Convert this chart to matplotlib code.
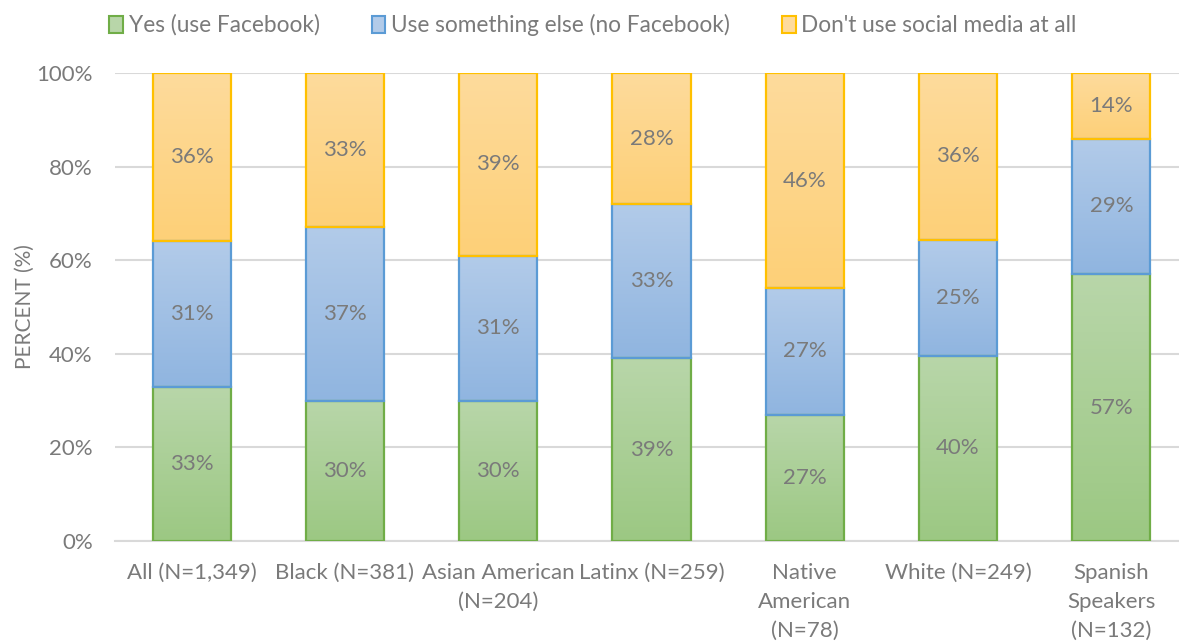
import matplotlib
matplotlib.use("Agg")
import matplotlib.pyplot as plt
from matplotlib.patches import Patch
import numpy as np

# data
groups = ["All (N=1,349)", "Black (N=381)", "Asian American\n(N=204)", "Latinx (N=259)",
          "Native\nAmerican\n(N=78)", "White (N=249)", "Spanish\nSpeakers\n(N=132)"]
yes_fb = [33, 30, 30, 39, 27, 40, 57]
other_sm = [31, 37, 31, 33, 27, 25, 29]
no_sm = [36, 33, 39, 28, 46, 36, 14]
series_names = ["Yes (use Facebook)", "Use something else (no Facebook)", "Don't use social media at all"]

# colours: (top of gradient, bottom of gradient, edge)
styles = [("#b8d6a9", "#9cc883", "#70ad47"),
          ("#b2cbe9", "#90b5e0", "#5b9bd5"),
          ("#fedb9c", "#fdd078", "#ffc000")]

plt.rcParams['font.family'] = ['Lato', 'DejaVu Sans']
grey = "#7a7a7a"

fig = plt.figure(figsize=(11.79, 6.41), dpi=100)
ax = fig.add_axes([115/1179, 1 - 541/641, 1073/1179, 468/641])

x = np.arange(len(groups))
width = 0.51
raw = np.array([yes_fb, other_sm, no_sm], dtype=float)
# 100% stacked: each column is scaled to its own total
shares = raw / raw.sum(axis=0) * 100
bottoms = np.zeros(len(groups))

for vals, labels, (top_c, bot_c, edge_c) in zip(shares, raw, styles):
    bars = ax.bar(x, vals, width, bottom=bottoms, color="none", edgecolor=edge_c,
                  linewidth=1.6, zorder=4)
    cmap = matplotlib.colors.LinearSegmentedColormap.from_list("g", [bot_c, top_c])
    grad = np.linspace(0, 1, 64).reshape(-1, 1)
    for b, v, y0, lab in zip(bars, vals, bottoms, labels):
        im = ax.imshow(grad, cmap=cmap, origin="lower", aspect="auto",
                       extent=[b.get_x(), b.get_x() + width, y0, y0 + v], zorder=3)
        im.set_clip_path(b)
        ax.text(b.get_x() + width / 2, y0 + v / 2, f"{int(lab)}%", ha="center", va="center",
                fontsize=16, color=grey, zorder=5)
    bottoms += vals

ax.set_xlim(-0.5, 6.5)
ax.set_ylim(0, 100)
ax.set_yticks(np.arange(0, 101, 20))
ax.set_yticklabels([f"{t}%" for t in range(0, 101, 20)])
ax.set_xticks(x)
ax.set_xticklabels(groups, linespacing=1.55)
ax.tick_params(length=0, labelsize=16, colors=grey)
ax.tick_params(axis="y", pad=16)
ax.tick_params(axis="x", pad=16)
ax.yaxis.grid(True, color="#d9d9d9", linewidth=1.5, zorder=0)
ax.set_axisbelow(True)
for s in ["top", "right", "left"]:
    ax.spines[s].set_visible(False)
ax.spines["bottom"].set_color("#d9d9d9")
ax.spines["bottom"].set_linewidth(1.5)
ax.set_ylabel("PERCENT (%)", fontsize=15, color=grey, labelpad=1)

handles = [Patch(facecolor=s[0], edgecolor=s[2], linewidth=1.5) for s in styles]
fig.legend(handles, series_names, loc="upper center", bbox_to_anchor=(0.503, 1.01), ncol=3,
           frameon=False, fontsize=16.3, labelcolor=grey, handlelength=0.6, handleheight=0.8,
           handletextpad=0.25, columnspacing=2.3)

fig.savefig("out.png", dpi=100)
